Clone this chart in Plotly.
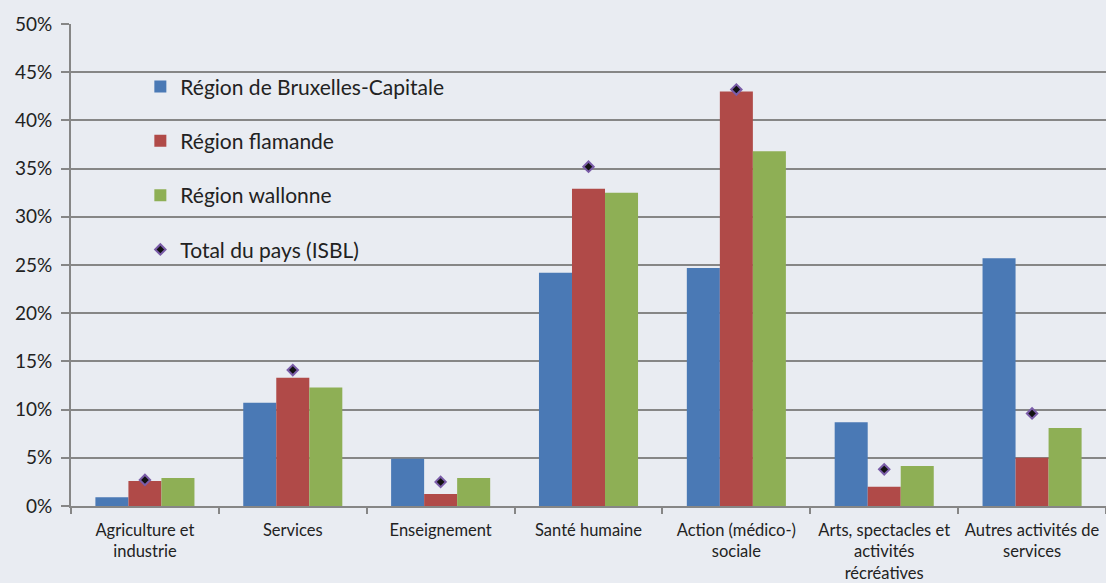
import plotly.graph_objects as go

# Secteurs d'activité (catégories)
categories = [
    "Agriculture et<br>industrie",
    "Services",
    "Enseignement",
    "Santé humaine",
    "Action (médico-)<br>sociale",
    "Arts, spectacles et<br>activités<br>récréatives",
    "Autres activités de<br>services",
]

# Parts en % par région
bruxelles = [0.9, 10.7, 4.9, 24.2, 24.7, 8.7, 25.7]
flandre = [2.6, 13.3, 1.25, 32.9, 43.0, 2.0, 5.0]
wallonie = [2.9, 12.3, 2.9, 32.5, 36.8, 4.15, 8.1]
total_pays = [2.7, 14.1, 2.5, 35.2, 43.2, 3.8, 9.6]

y_ticks = list(range(0, 51, 5))
y_labels = [f"{v}%" for v in y_ticks]

BG = "#E9ECF2"
GRID = "#868686"
FONT = "Lato, 'Open Sans', sans-serif"

fig = go.Figure()

series = [
    ("Région de Bruxelles-Capitale", bruxelles, "#4A79B5"),
    ("Région flamande", flandre, "#B04A48"),
    ("Région wallonne", wallonie, "#8EAF55"),
]
for name, vals, col in series:
    fig.add_trace(go.Bar(
        x=categories, y=vals, name=name, legendgroup=name,
        marker=dict(color=col, line=dict(width=0)),
    ))

fig.add_trace(go.Scatter(
    x=categories, y=total_pays, name="Total du pays (ISBL)",
    legendgroup="total", mode="markers",
    marker=dict(symbol="diamond", size=8, color="#111111",
                line=dict(color="#7A5CA8", width=2)),
))

fig.update_layout(
    width=1106, height=583,
    paper_bgcolor=BG, plot_bgcolor=BG,
    margin=dict(l=71, r=0, t=24, b=77),
    barmode="group", bargap=0.33, bargroupgap=0,
    font=dict(family=FONT, size=16, color="#222222"),
    legend=dict(
        x=0.067, y=0.912, xanchor="left", yanchor="top",
        bgcolor="rgba(0,0,0,0)", font=dict(size=21),
        traceorder="grouped", tracegroupgap=24,
        itemwidth=30,
    ),
    showlegend=True,
)

fig.update_yaxes(
    range=[0, 50], tickvals=y_ticks, ticktext=y_labels,
    showgrid=True, gridcolor=GRID, gridwidth=2,
    showline=True, linecolor=GRID, linewidth=2,
    ticks="outside", ticklen=8, tickcolor=GRID, tickwidth=2,
    ticklabelstandoff=5,
    tickfont=dict(size=19), zeroline=False,
)
fig.update_xaxes(
    showline=True, linecolor=GRID, linewidth=2,
    ticks="outside", tickson="boundaries", ticklen=6,
    tickcolor=GRID, tickwidth=2, showgrid=False,
    ticklabelstandoff=8,
    tickfont=dict(size=16.5),
)

fig.write_html(
    "out.html",
    config={"displayModeBar": False},
    post_script="document.body.style.margin='0';"
                "document.body.style.background='#E9ECF2';",
)
